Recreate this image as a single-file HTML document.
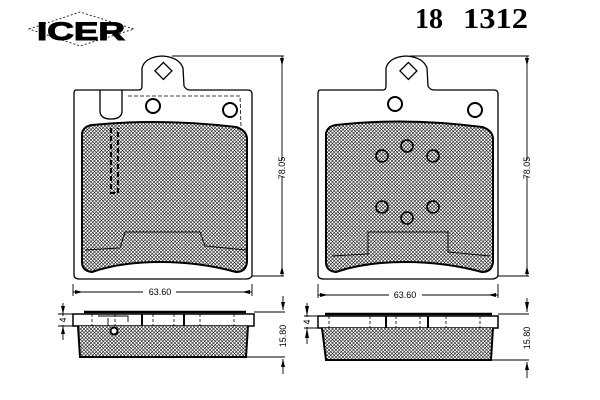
<!DOCTYPE html>
<html><head><meta charset="utf-8"><style>
html,body{margin:0;padding:0;background:#fff;width:600px;height:400px;overflow:hidden}
svg{display:block}
</style></head><body>
<svg width="600" height="400" viewBox="0 0 600 400" xmlns="http://www.w3.org/2000/svg">
<defs>
<pattern id="h" width="3.5" height="3.5" patternUnits="userSpaceOnUse">
<rect width="3.5" height="3.5" fill="#fff"/>
<path d="M0,0L3.5,3.5M3.5,0L0,3.5" stroke="#000" stroke-width="0.55"/>
</pattern>
</defs>
<!-- logo -->
<polygon points="29,29 80,12 134,29 80,46" fill="none" stroke="#000" stroke-width="0.8" stroke-dasharray="2,2"/>
<text x="81" y="40" font-family="Liberation Sans, sans-serif" font-weight="bold" font-size="25" text-anchor="middle" textLength="88" lengthAdjust="spacingAndGlyphs" stroke="#000" stroke-width="1">ICER</text>
<text x="415" y="28" font-family="Liberation Serif, serif" font-weight="bold" font-size="28" textLength="28" lengthAdjust="spacingAndGlyphs">18</text>
<text x="463" y="28" font-family="Liberation Serif, serif" font-weight="bold" font-size="28" textLength="65" lengthAdjust="spacingAndGlyphs">1312</text>

<g fill="none" stroke="#000" stroke-width="1.3">
<!-- LEFT PAD -->
<path d="M76,90 L139,90 Q142,90 142,86 L142,68 Q145,57 162,56 Q179,57 183,68 L184,86 Q186,90 190,90 L248,90 Q252,90 252,94 L252,276 Q250,279 246,279 L80,279 Q74,279 74,275 L74,94 Q74,90 76,90Z"/>
<path d="M100,90 L100,112 Q101,119 111,119 Q121,119 122,112 L122,90" />
<rect x="152" y="66" width="12" height="12" transform="rotate(45 162 78)" />
<circle cx="153" cy="106" r="7" stroke-width="2"/>
<circle cx="230" cy="110" r="7" stroke-width="2"/>
<path d="M128,96 L240,96 L241,126" stroke-dasharray="4,2" stroke-width="0.8"/>
<path d="M82,133 Q84,126 92,125 Q160,118 236,127 Q246,130 247,138 L247,262 Q246,272 236,272 Q200,262 160,262 Q120,262 92,272 Q82,271 82,262Z" fill="url(#h)" stroke-width="2"/>
<path d="M111,128 L111,193 L118,193 L118,128" stroke-dasharray="5,3" stroke-width="2"/>
<path d="M85,250 L120,248 L125,232 L200,232 L205,246 L246,250" stroke-width="0.9"/>
<!-- dims -->
<path d="M172,56 L284,56 M252,276 L284,276 M282,56 L282,160 M282,176 L282,276" stroke-width="0.9"/>
<path d="M73,284 L73,296 M252,284 L252,296 M73,292 L143,292 M176,292 L252,292" stroke-width="0.9"/>
<!-- left side view -->
<rect x="73" y="314" width="181" height="12" stroke-width="1.5"/>
<path d="M84,312 L246,312" stroke-width="2.5"/>
<path d="M78,326 L80,357 L246,357 L248,326" fill="url(#h)" stroke-width="2"/>
<path d="M142,314 L142,326 M184,314 L184,326" stroke-width="2"/>
<path d="M92,314 L92,326 M115,314 L115,326 M153,314 L153,326 M174,314 L174,326 M200,314 L200,326 M234,314 L234,326" stroke-dasharray="3,2" stroke-width="0.8"/>
<path d="M98,316 L128,316 L128,322 M108,318 L108,326" stroke-width="0.9"/>
<circle cx="114" cy="331" r="3.5" stroke-width="2" fill="#fff"/>
<path d="M63,303 L63,316 M63,325 L63,340 M58,314 L73,314 M58,326 L73,326" stroke-width="0.9"/>
<path d="M254,312 L285,312 M246,357 L285,357 M283,296 L283,310 M283,359 L283,374" stroke-width="0.9"/>

<!-- RIGHT PAD -->
<path d="M320,90 L383,90 Q386,90 386,86 L386,68 Q389,57 406,56 Q423,57 427,68 L428,86 Q430,90 434,90 L494,90 Q498,90 498,94 L498,276 Q496,279 492,279 L324,279 Q318,279 318,275 L318,94 Q318,90 320,90Z"/>
<rect x="397" y="66" width="12" height="12" transform="rotate(45 407 78)"/>
<circle cx="395" cy="104" r="7" stroke-width="2"/>
<circle cx="475" cy="110" r="7" stroke-width="2"/>
<path d="M326,133 Q328,126 336,125 Q405,117 482,127 Q492,130 493,138 L493,262 Q492,272 482,272 Q445,262 405,262 Q365,262 336,272 Q326,271 326,262Z" fill="url(#h)" stroke-width="2"/>
<g stroke-width="1.6" fill="url(#h)">
<circle cx="407" cy="146" r="6"/><circle cx="382" cy="156" r="6"/><circle cx="433" cy="156" r="6"/>
<circle cx="382" cy="207" r="6"/><circle cx="433" cy="207" r="6"/><circle cx="407" cy="218" r="6"/>
</g>
<path d="M332,256 L368,254 L368,232 L448,232 L448,252 L490,256" stroke-width="0.9"/>
<path d="M410,56 L529,56 M498,276 L529,276 M527,56 L527,160 M527,176 L527,276" stroke-width="0.9"/>
<path d="M318,284 L318,298 M498,284 L498,298 M318,295 L389,295 M422,295 L498,295" stroke-width="0.9"/>
<!-- right side view -->
<rect x="318" y="316" width="180" height="12" stroke-width="1.5"/>
<path d="M325,314 L492,314" stroke-width="2.5"/>
<path d="M322,328 L326,360 L491,360 L493,328" fill="url(#h)" stroke-width="2"/>
<path d="M386,316 L386,328 M428,316 L428,328" stroke-width="2"/>
<path d="M329,316 L329,328 M370,316 L370,328 M396,316 L396,328 M420,316 L420,328 M446,316 L446,328 M480,316 L480,328" stroke-dasharray="3,2" stroke-width="0.8"/>
<path d="M307,303 L307,317 M307,327 L307,344 M304,316 L318,316 M304,328 L318,328" stroke-width="0.9"/>
<path d="M498,314 L529,314 M491,360 L529,360 M527,298 L527,312 M527,362 L527,378" stroke-width="0.9"/>
</g>
<!-- arrowheads -->
<g fill="#000">
<path d="M280,58 L284,58 L282,66Z M280,274 L284,274 L282,266Z"/>
<path d="M75,290 L75,294 L83,292Z M250,290 L250,294 L242,292Z"/>
<path d="M525,58 L529,58 L527,66Z M525,274 L529,274 L527,266Z"/>
<path d="M320,293 L320,297 L328,295Z M496,293 L496,297 L488,295Z"/>
<path d="M61,306 L65,306 L63,314Z M61,334 L65,334 L63,326Z"/>
<path d="M281,302 L285,302 L283,310Z M281,367 L285,367 L283,359Z"/>
<path d="M305,306 L309,306 L307,316Z M305,338 L309,338 L307,328Z"/>
<path d="M525,302 L529,302 L527,312Z M525,370 L529,370 L527,362Z"/>
</g>
<g font-family="Liberation Sans, sans-serif" font-size="9" fill="#000">
<text x="160" y="295" text-anchor="middle">63.60</text>
<text x="405" y="298" text-anchor="middle">63.60</text>
<text transform="translate(285,168) rotate(-90)" text-anchor="middle">78.05</text>
<text transform="translate(530,168) rotate(-90)" text-anchor="middle">78.05</text>
<text transform="translate(66,320) rotate(-90)" text-anchor="middle">4</text>
<text transform="translate(310,322) rotate(-90)" text-anchor="middle">4</text>
<text transform="translate(286,336) rotate(-90)" text-anchor="middle">15.80</text>
<text transform="translate(530,338) rotate(-90)" text-anchor="middle">15.80</text>
</g>
</svg>
</body></html>
